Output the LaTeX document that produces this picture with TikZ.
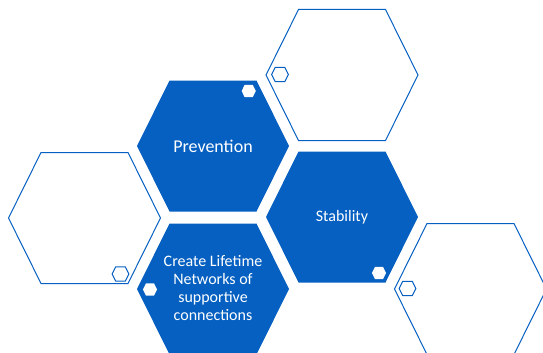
\documentclass[tikz,border=0pt]{standalone}
\usepackage{fontspec}
\setmainfont{Carlito}
\definecolor{hexblue}{RGB}{5,96,193}

\begin{document}
\begin{tikzpicture}[x=1pt, y=-1pt]
\tikzset{
  hexa/.pic={
    \path[pic actions] (-76,0) -- (-43.5,-65.5) -- (43.5,-65.5) -- (76,0)
      -- (43.5,65.5) -- (-43.5,65.5) -- cycle;
  },
  solidhex/.style={fill=hexblue},
  linehex/.style={draw=hexblue, line width=1pt},
  whitedot/.style={fill=white, scale=0.093},
  ringdot/.style={draw=hexblue, line width=1pt, scale=0.11},
  hextext/.style={text=white, align=center, font=\fontsize{16}{17.7}\selectfont}
}
\useasboundingbox (0,0) rectangle (543,353);
\clip (0,0) rectangle (543,353);

% Outline hexagons
\pic[linehex] at (342,75)    {hexa};
\pic[linehex] at (84.5,218)  {hexa};
\pic[linehex] at (470.5,289) {hexa};
\pic[ringdot] at (280,74.5)  {hexa};
\pic[ringdot] at (120.5,274) {hexa};
\pic[ringdot] at (407.5,288.5) {hexa};

% Filled hexagons
\pic[solidhex] at (213,146) {hexa};
\pic[solidhex] at (342,217) {hexa};
\pic[solidhex] at (213,289) {hexa};
\pic[whitedot] at (248.7,91) {hexa};
\pic[whitedot] at (379,273)  {hexa};
\pic[whitedot] at (150,289.5) {hexa};

% Labels
\node[hextext, font=\fontsize{18}{20}\selectfont] (prevention) at (213,146) {Prevention};
\node[hextext] (stability) at (342,217) {Stability};
\node[hextext] (lifetime)  at (213,288) {Create Lifetime\\Networks of\\supportive\\connections};

\end{tikzpicture}
\end{document}
